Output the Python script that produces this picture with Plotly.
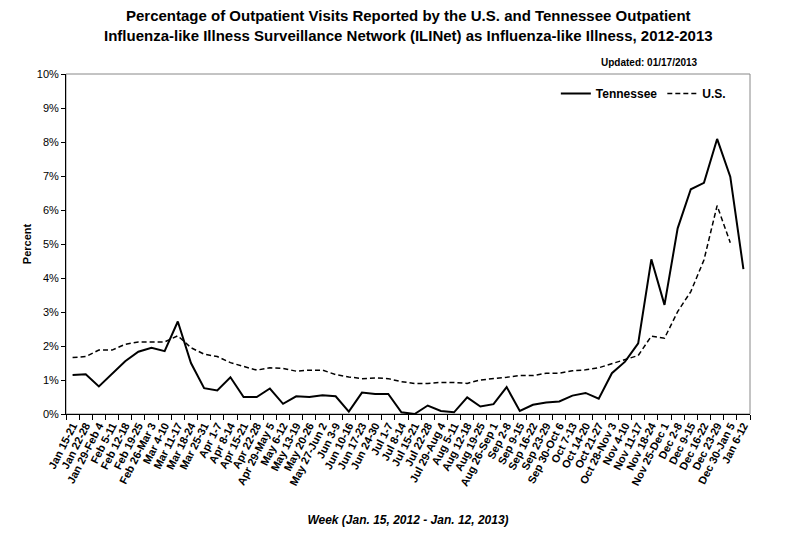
import plotly.graph_objects as go

weeks = [
    'Jan 15-21', 'Jan 22-28', 'Jan 29-Feb 4', 'Feb 5-11', 'Feb 12-18', 'Feb 19-25',
    'Feb 26-Mar 3', 'Mar 4-10', 'Mar 11-17', 'Mar 18-24', 'Mar 25-31', 'Apr 1-7',
    'Apr 8-14', 'Apr 15-21', 'Apr 22-28', 'Apr 29-May 5', 'May 6-12', 'May 13-19',
    'May 20-26', 'May 27-Jun 2', 'Jun 3-9', 'Jun 10-16', 'Jun 17-23', 'Jun 24-30',
    'Jul 1-7', 'Jul 8-14', 'Jul 15-21', 'Jul 22-28', 'Jul 29-Aug 4', 'Aug 5-11',
    'Aug 12-18', 'Aug 19-25', 'Aug 26-Sep 1', 'Sep 2-8', 'Sep 9-15', 'Sep 16-22',
    'Sep 23-29', 'Sep 30-Oct 6', 'Oct 7-13', 'Oct 14-20', 'Oct 21-27', 'Oct 28-Nov 3',
    'Nov 4-10', 'Nov 11-17', 'Nov 18-24', 'Nov 25-Dec 1', 'Dec 2-8', 'Dec 9-15',
    'Dec 16-22', 'Dec 23-29', 'Dec 30-Jan 5', 'Jan 6-12',
]

# percent of visits
tennessee = [
    1.15, 1.17, 0.81, 1.18, 1.55, 1.83, 1.95, 1.85, 2.72, 1.50, 0.76, 0.69,
    1.08, 0.50, 0.50, 0.75, 0.30, 0.52, 0.50, 0.55, 0.52, 0.07, 0.63, 0.59,
    0.59, 0.05, 0.00, 0.25, 0.09, 0.05, 0.49, 0.22, 0.29, 0.79, 0.09, 0.27,
    0.34, 0.37, 0.54, 0.62, 0.45, 1.20, 1.54, 2.08, 4.55, 3.21, 5.46, 6.61,
    6.80, 8.09, 6.98, 4.26,
]
us = [
    1.66, 1.69, 1.88, 1.88, 2.05, 2.12, 2.12, 2.12, 2.30, 1.95, 1.76, 1.69,
    1.51, 1.41, 1.29, 1.36, 1.34, 1.26, 1.29, 1.29, 1.16, 1.09, 1.04, 1.06,
    1.04, 0.95, 0.90, 0.90, 0.93, 0.93, 0.90, 1.00, 1.03, 1.08, 1.13, 1.13,
    1.20, 1.20, 1.27, 1.30, 1.36, 1.48, 1.60, 1.72, 2.29, 2.23, 3.01, 3.60,
    4.53, 6.13, 5.04, None,
]

font = 'Liberation Sans, Arial, sans-serif'
narrow = 'Liberation Sans Narrow, Arial Narrow, Liberation Sans, sans-serif'

fig = go.Figure()
fig.add_trace(go.Scatter(x=weeks, y=tennessee, name='Tennessee', mode='lines',
                         line=dict(color='black', width=2)))
fig.add_trace(go.Scatter(x=weeks, y=us, name='U.S.', mode='lines',
                         line=dict(color='black', width=1.5, dash='5px,3px')))

# the page body adds 8px, so margins are trimmed by that much on the top/left
fig.update_layout(
    width=792, height=540,
    paper_bgcolor='white', plot_bgcolor='white',
    margin=dict(l=58, r=50, t=66, b=134, autoexpand=False),
    font=dict(family=font, color='black'),
    showlegend=True,
    legend=dict(orientation='h', x=0.972, y=0.985, xanchor='right', yanchor='top',
                font=dict(family=font, size=12, color='black', weight='bold'),
                bgcolor='rgba(0,0,0,0)'),
    xaxis=dict(
        type='category', showgrid=False, showline=True, linecolor='black', linewidth=1,
        ticks='outside', ticklen=5, tickson='boundaries', tickcolor='black',
        tickangle=-63, tickfont=dict(family=font, size=11, color='black', weight='bold'),
        title=dict(text='<b><i>Week (Jan. 15, 2012 - Jan. 12, 2013)</i></b>',
                   font=dict(family=font, size=12), standoff=28),
        range=[-0.5, len(weeks) - 0.5],
    ),
    yaxis=dict(
        range=[0, 10], dtick=1, ticksuffix='%', showgrid=False, zeroline=False,
        showline=True, linecolor='black', linewidth=1, ticks='outside', ticklen=4,
        tickcolor='black', tickfont=dict(family=font, size=11, color='black'),
        title=dict(text='<b>Percent</b>', font=dict(family=font, size=11), standoff=2),
    ),
)

# grey frame round the plot area
fig.add_shape(type='rect', xref='paper', yref='paper', x0=0, x1=1, y0=0, y1=1,
              line=dict(color='#888888', width=1), layer='below')

fig.add_annotation(
    text='<b>Percentage of Outpatient Visits Reported by the U.S. and Tennessee Outpatient<br>'
         'Influenza-like Illness Surveillance Network (ILINet) as Influenza-like Illness, 2012-2013</b>',
    xref='paper', yref='paper', x=0.5, y=1.0, yshift=69, xanchor='center', yanchor='top',
    showarrow=False, font=dict(family=narrow, size=15, color='black'),
)
fig.add_annotation(
    text='<b>Updated: 01/17/2013</b>', xref='paper', yref='paper', x=0.927, y=1.0,
    yshift=4, xanchor='right', yanchor='bottom', showarrow=False,
    font=dict(family=narrow, size=10, color='black'),
)

fig.write_html('out.html')
